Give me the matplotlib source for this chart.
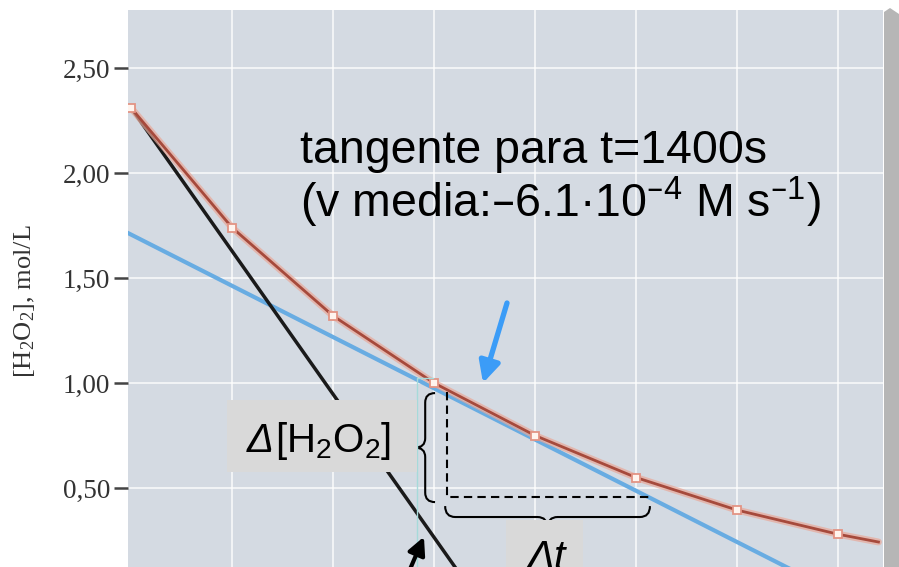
import matplotlib
matplotlib.use("Agg")
import matplotlib.pyplot as plt
from matplotlib.path import Path
from matplotlib.patches import PathPatch, Rectangle, Polygon

plt.rcParams['font.family'] = ['Liberation Sans', 'DejaVu Sans']

# === DATA ===
time_s = [0, 400, 800, 1200, 1600, 2000, 2400, 2800]
conc_M = [2.31, 1.74, 1.32, 1.00, 0.75, 0.55, 0.395, 0.28]
tail_t = [2800, 2960]
tail_c = [0.28, 0.243]

# tangent at t=0 (black) and at t=1400 s (blue)
tan0_t = [0, 1300]
tan0_c = [2.31, 0.095]
tan1400_t = [-20, 2700]
tan1400_c = [1.719, 0.060]

# dashed triangle under the tangent
dash_t = [1250, 1250, 2050]
dash_c = [0.955, 0.457, 0.457]

y_ticks = [0.50, 1.00, 1.50, 2.00, 2.50]
y_ticklabels = ["0,50", "1,00", "1,50", "2,00", "2,50"]
x_grid = [400, 800, 1200, 1600, 2000, 2400, 2800]

BG = '#d4dae2'
BOX = '#d9d9d9'


def brace_v(ax, x_end, x_mid, x_tip, y_top, y_bot, r):
    # vertical curly brace, tip pointing left
    y_mid = (y_top + y_bot) / 2
    verts = [(x_end, y_top), (x_mid, y_top), (x_mid, y_top - r),
             (x_mid, y_mid + r), (x_mid, y_mid), (x_tip, y_mid),
             (x_mid, y_mid), (x_mid, y_mid - r),
             (x_mid, y_bot + r), (x_mid, y_bot), (x_end, y_bot)]
    codes = [Path.MOVETO, Path.CURVE3, Path.CURVE3, Path.LINETO,
             Path.CURVE3, Path.CURVE3, Path.CURVE3, Path.CURVE3,
             Path.LINETO, Path.CURVE3, Path.CURVE3]
    ax.add_patch(PathPatch(Path(verts, codes), fc='none', ec='black',
                           lw=1.5, zorder=6, clip_on=False))


def brace_h(ax, y_end, y_mid, y_tip, x_left, x_right, r):
    # horizontal curly brace, tip pointing down
    x_c = (x_left + x_right) / 2
    verts = [(x_left, y_end), (x_left, y_mid), (x_left + r, y_mid),
             (x_c - r, y_mid), (x_c, y_mid), (x_c, y_tip),
             (x_c, y_mid), (x_c + r, y_mid),
             (x_right - r, y_mid), (x_right, y_mid), (x_right, y_end)]
    codes = [Path.MOVETO, Path.CURVE3, Path.CURVE3, Path.LINETO,
             Path.CURVE3, Path.CURVE3, Path.CURVE3, Path.CURVE3,
             Path.LINETO, Path.CURVE3, Path.CURVE3]
    ax.add_patch(PathPatch(Path(verts, codes), fc='none', ec='black',
                           lw=1.5, zorder=6, clip_on=False))


fig = plt.figure(figsize=(8.99, 5.67), dpi=100)
ax = fig.add_axes([128 / 899, 0, 755 / 899, 1 - 10 / 567])
ax.set_facecolor(BG)
for s in ax.spines.values():
    s.set_visible(False)

ax.set_xlim(-12, 2978)
ax.set_ylim(0.124, 2.776)

# grid
ax.set_xticks(x_grid)
ax.set_yticks(y_ticks)
ax.set_yticklabels(y_ticklabels, family='Liberation Serif', fontsize=19.5,
                   color='#333333')
ax.grid(True, color='white', lw=1.3, alpha=0.75)
ax.set_axisbelow(True)
ax.tick_params(axis='x', bottom=False, labelbottom=False)
ax.tick_params(axis='y', length=10, width=1.8, color='#444444', pad=3)

fig.text(25 / 899, 1 - 301 / 567,
         r"[H$\mathregular{_2}$O$\mathregular{_2}$], mol/L",
         rotation=90, ha='center', va='center', family='Liberation Serif',
         fontsize=19, color='#333333')

# lines
ax.plot(tan1400_t, tan1400_c, color='#68ace2', lw=3, zorder=2)
ax.plot(tan0_t, tan0_c, color='#1a1a1a', lw=2.5, zorder=3)
ax.plot(time_s + tail_t[1:], conc_M + tail_c[1:], color='#e8a898',
        lw=5, alpha=0.7, zorder=4, solid_capstyle='round')
ax.plot(time_s + tail_t[1:], conc_M + tail_c[1:], color='#a64a3c',
        lw=2, zorder=5)
ax.plot(time_s, conc_M, ls='none', marker='s', ms=5.5, mfc='#fff4ee',
        mec='#e39484', mew=1.3, zorder=6)

# dashed triangle
ax.plot(dash_t, dash_c, color='black', lw=1.5, ls=(0, (4, 2.5)), zorder=6)

# braces
brace_v(ax, 1204, 1165, 1125, 0.952, 0.433, 0.045)
brace_h(ax, 0.414, 0.362, 0.310, 1244, 2055, 40)

# thin teal outline
ax.plot([1196, 1133, 1133], [1.024, 1.024, 0.0], color='#a6dada', lw=1,
        zorder=6, clip_on=False)

# label boxes
ax.add_patch(Rectangle((380, 0.576), 753, 0.343, fc=BOX, ec='none',
                       zorder=7))
ax.add_patch(Rectangle((1485, 0.0), 305, 0.348, fc=BOX, ec='none',
                       zorder=7, clip_on=False))

ax.text(459, 0.671, "\u0394", style='italic', fontsize=29, va='baseline',
        ha='left', zorder=8)
ax.text(570, 0.671, r"[H$\mathregular{_2}$O$\mathregular{_2}$]",
        fontsize=29, va='baseline', ha='left', zorder=8)
ax.text(1568, 0.110, "\u0394t", style='italic', fontsize=30,
        va='baseline', ha='left', zorder=8)

# tangent text
ax.text(669, 2.048, "tangente para t=1400s", fontsize=33.5, va='baseline',
        ha='left', zorder=8)
ax.text(669, 1.790,
        "(v media:\u20136.1\u00b710$\\mathregular{^{\u20134}}$ M s$\\mathregular{^{\u20131}}$)",
        fontsize=33.5, va='baseline', ha='left', zorder=8)

# arrows
ax.annotate("", xy=(1394, 1.0), xytext=(1489, 1.381),
            arrowprops=dict(arrowstyle="-|>,head_length=0.7,head_width=0.35",
                            color='#3b9cf7', lw=3.8, mutation_scale=18,
                            shrinkA=0, shrinkB=0), zorder=9)
ax.annotate("", xy=(1160, 0.268), xytext=(1100, 0.100),
            arrowprops=dict(arrowstyle="-|>,head_length=0.7,head_width=0.35",
                            color='black', lw=3, mutation_scale=15,
                            shrinkA=0, shrinkB=0), zorder=9,
            annotation_clip=False)

# shadow on the right edge of the slide
fig.patches.append(Polygon([[884 / 899, 1 - 12 / 567], [890 / 899, 1 - 8 / 567],
                            [1, 1 - 14 / 567], [1, 0], [884 / 899, 0]],
                           closed=True, transform=fig.transFigure,
                           fc='#b6b6b6', ec='none'))

fig.savefig("out.png", dpi=100)
